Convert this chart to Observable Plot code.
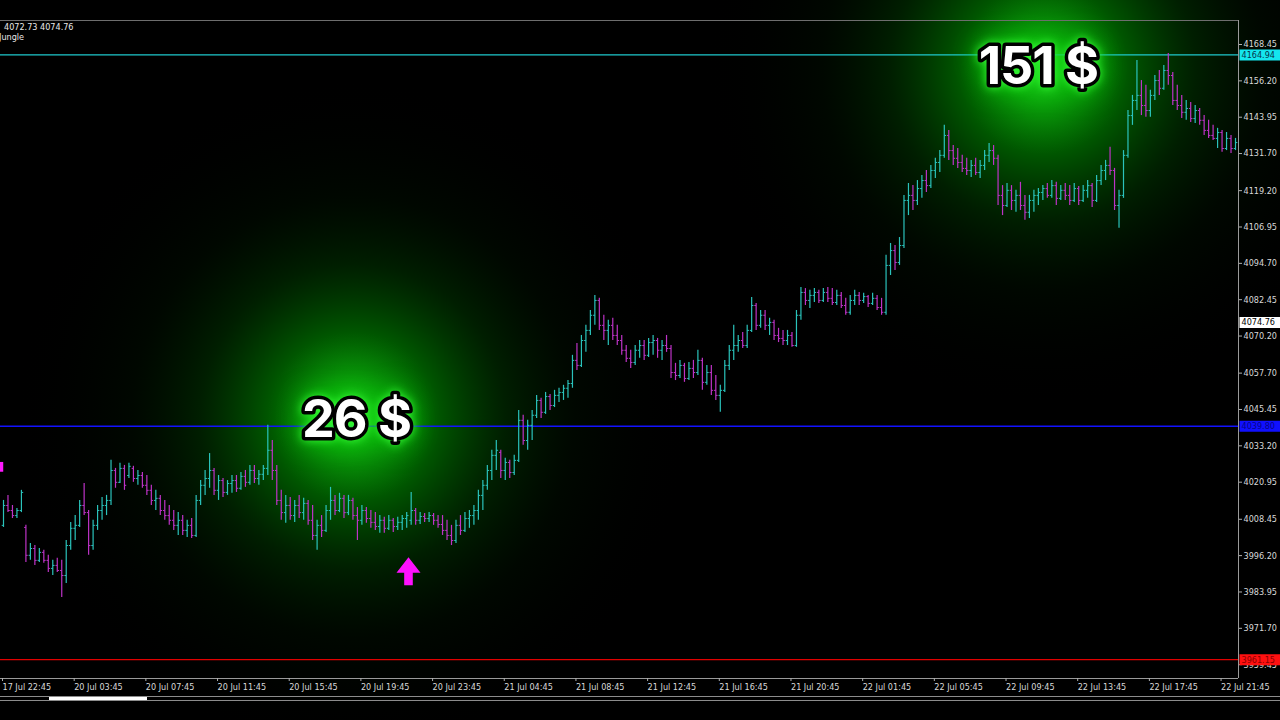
<!DOCTYPE html>
<html><head><meta charset="utf-8">
<script src="https://cdn.jsdelivr.net/npm/d3@7"></script>
<script src="https://cdn.jsdelivr.net/npm/@observablehq/plot@0.6"></script>
<style>
html,body{margin:0;padding:0;background:#000;}
#wrap{position:relative;width:1280px;height:720px;overflow:hidden;background:#000;}
#chart{position:absolute;left:0;top:0;}
.info{position:absolute;color:#e8e8e8;font:9px "DejaVu Sans Condensed","DejaVu Sans",sans-serif;line-height:10px;white-space:nowrap;}
.bl{position:absolute;left:0;width:1280px;height:1px;background:#8c8c8c;}
</style></head>
<body><div id="wrap"><div id="chart"></div>
<div class="info" style="top:22px;left:4px">4072.73 4074.76</div>
<div class="info" style="top:32px;left:-1px">Jungle</div>
<div class="bl" style="top:696px"></div>
<div class="bl" style="top:700px"></div>
<div style="position:absolute;left:49px;top:697px;width:98px;height:3px;background:#fff"></div>
</div>
<script>
// ---- OHLC data (15-minute bars, 17 Jul 22:45 .. 22 Jul 22:30) ----
const opens = [
4006.4,4013.1,4011.4,4009.7,4011.4,4005.7,3996.3,3998.6,3994.6,3997.3,
3994.6,3991.9,3992.9,3991.2,3989.5,3999.6,4005.4,4006.4,4013.1,4010.7,
3999.6,4006.4,4011.4,4013.1,4014.8,4024.9,4020.9,4025.6,4023.2,4025.6,
4022.2,4023.2,4019.9,4018.2,4014.8,4015.5,4011.4,4009.7,4008.1,4006.4,
4008.1,4004.7,4006.4,4003.0,4014.8,4019.9,4022.2,4024.9,4018.2,4021.5,
4017.5,4020.5,4021.5,4018.9,4022.9,4020.9,4024.9,4022.2,4023.6,4025.6,
4031.7,4024.9,4014.8,4010.7,4013.1,4009.7,4013.1,4010.7,4013.8,4008.1,
4003.0,4006.4,4004.7,4011.4,4014.8,4011.4,4015.5,4010.7,4014.8,4009.7,
4008.1,4011.4,4008.7,4007.4,4006.0,4008.1,4005.4,4008.1,4006.0,4007.4,
4008.7,4008.1,4011.4,4008.1,4009.4,4008.7,4009.7,4008.1,4006.7,4004.7,
4003.0,4001.3,4006.4,4004.7,4008.7,4009.7,4011.4,4016.5,4019.9,4024.9,
4030.0,4031.0,4024.9,4027.6,4024.2,4028.3,4041.8,4035.0,4040.1,4043.5,
4048.5,4044.5,4049.8,4046.8,4050.2,4051.2,4052.6,4054.2,4062.0,4060.3,
4068.7,4072.1,4077.2,4082.2,4073.8,4072.1,4073.8,4070.4,4068.7,4065.4,
4062.7,4061.3,4065.4,4067.0,4063.7,4068.0,4068.7,4065.4,4067.0,4066.0,
4057.9,4056.9,4060.3,4055.9,4059.3,4057.9,4062.0,4054.6,4057.9,4051.9,
4050.2,4051.9,4060.3,4065.4,4067.0,4068.7,4067.0,4072.1,4080.5,4073.8,
4077.2,4073.8,4074.8,4070.4,4069.4,4068.7,4070.4,4067.0,4077.2,4084.9,
4082.2,4083.9,4084.9,4082.2,4084.9,4082.9,4081.5,4083.9,4080.5,4078.2,
4082.2,4083.9,4082.2,4083.5,4081.2,4082.9,4079.8,4078.2,4094.0,4099.0,
4095.0,4100.7,4115.9,4117.6,4115.9,4119.9,4122.6,4120.9,4126.0,4128.7,
4131.1,4137.8,4132.7,4130.1,4128.7,4126.7,4126.0,4127.7,4125.3,4127.7,
4131.1,4132.7,4130.1,4117.6,4114.2,4119.3,4115.9,4117.6,4114.2,4111.9,
4115.9,4117.6,4118.6,4119.9,4117.6,4120.9,4116.6,4119.3,4117.6,4115.9,
4119.9,4115.9,4119.3,4120.9,4115.9,4122.6,4126.0,4127.7,4126.0,4114.2,
4117.6,4131.1,4144.5,4149.6,4151.3,4147.9,4146.2,4151.3,4156.3,4153.7,
4159.7,4158.0,4149.6,4147.9,4145.6,4146.9,4143.5,4146.2,4142.9,4139.5,
4137.8,4136.8,4138.8,4133.4,4136.8,4133.4];
const highs = [
4014.8,4016.5,4013.1,4012.1,4018.2,4006.4,4000.3,3999.6,3998.6,3998.0,
3996.3,3994.6,3995.3,3994.6,4001.3,4007.4,4009.7,4014.8,4020.5,4011.4,
4008.1,4013.1,4015.8,4016.5,4028.3,4025.6,4027.3,4026.6,4027.3,4026.3,
4024.9,4024.2,4023.2,4019.9,4018.2,4016.5,4014.8,4013.1,4011.4,4010.7,
4009.7,4008.1,4008.7,4016.5,4021.5,4024.9,4030.6,4025.6,4023.2,4022.2,
4021.5,4023.2,4023.2,4024.2,4024.9,4026.6,4026.6,4024.9,4026.6,4040.1,
4035.0,4026.6,4018.2,4016.5,4015.8,4014.8,4016.5,4015.5,4014.8,4013.1,
4008.1,4009.7,4013.1,4019.2,4016.5,4017.2,4016.5,4016.5,4015.5,4012.4,
4013.1,4012.4,4011.4,4010.7,4009.7,4009.1,4009.7,4008.7,4009.1,4009.7,
4010.7,4017.5,4012.1,4010.7,4010.4,4010.7,4010.4,4009.7,4009.7,4008.1,
4006.4,4008.1,4009.7,4010.7,4011.4,4013.1,4018.2,4021.5,4026.6,4031.7,
4035.0,4031.7,4029.0,4028.3,4030.0,4045.1,4043.5,4041.8,4045.1,4050.2,
4049.2,4051.2,4050.5,4051.9,4052.6,4053.6,4055.2,4063.7,4067.7,4070.4,
4073.8,4078.8,4083.9,4082.9,4077.2,4075.5,4076.2,4073.8,4070.4,4067.0,
4065.4,4067.0,4068.7,4068.7,4069.4,4070.4,4069.4,4068.7,4070.4,4067.0,
4061.0,4062.0,4061.0,4061.3,4062.0,4065.4,4062.7,4060.3,4060.3,4056.9,
4053.6,4062.0,4067.0,4073.8,4070.4,4071.4,4073.8,4083.2,4081.2,4078.8,
4078.8,4076.2,4075.5,4072.8,4072.1,4072.1,4071.4,4078.8,4086.6,4086.2,
4085.6,4086.2,4085.6,4086.2,4086.6,4086.2,4085.6,4084.9,4082.9,4083.9,
4085.6,4084.9,4084.6,4083.9,4084.6,4083.9,4082.9,4097.4,4101.4,4100.7,
4103.4,4117.6,4121.6,4120.9,4122.6,4124.3,4126.0,4127.7,4130.1,4132.7,
4141.2,4139.5,4134.4,4133.4,4131.1,4130.1,4129.4,4130.1,4129.4,4132.7,
4135.1,4134.4,4131.1,4120.9,4121.6,4120.9,4119.3,4122.0,4117.6,4117.6,
4119.3,4119.9,4120.9,4121.6,4122.6,4122.0,4120.9,4121.6,4120.9,4121.6,
4120.6,4120.9,4122.6,4121.6,4124.3,4127.7,4129.4,4133.8,4126.7,4119.3,
4132.7,4146.2,4151.3,4163.1,4156.3,4154.7,4153.0,4158.0,4159.7,4161.4,
4165.4,4159.0,4154.7,4151.3,4149.6,4148.9,4147.9,4146.9,4144.5,4142.9,
4141.2,4140.2,4139.5,4138.8,4137.8,4136.8];
const lows = [
4005.7,4010.7,4008.7,4008.7,4010.7,3993.9,3994.6,3992.9,3993.9,3993.6,
3990.5,3989.5,3990.5,3982.1,3986.8,3998.0,4001.3,4005.7,4009.7,3996.3,
3998.0,4004.7,4008.1,4009.7,4013.1,4018.9,4020.5,4018.2,4022.2,4020.9,
4019.9,4018.9,4016.5,4013.1,4011.4,4009.7,4008.1,4006.4,4004.7,4003.0,
4003.0,4002.3,4002.0,4002.3,4013.1,4016.5,4018.9,4016.5,4014.8,4015.8,
4016.5,4017.2,4017.5,4018.2,4019.2,4019.9,4020.5,4019.9,4021.5,4023.2,
4021.5,4013.1,4008.1,4007.1,4008.1,4007.4,4008.7,4008.1,4006.4,4001.3,
3998.0,4002.3,4004.0,4008.1,4009.7,4010.7,4008.7,4009.7,4008.1,4001.3,
4006.4,4007.1,4005.4,4004.7,4003.7,4003.7,4004.7,4004.0,4004.7,4004.7,
4005.4,4006.4,4006.4,4006.7,4007.4,4007.4,4006.4,4005.4,4003.0,4001.3,
3999.6,4000.3,4003.0,4004.0,4005.4,4006.4,4008.1,4011.4,4018.2,4021.5,
4024.9,4022.2,4021.5,4022.2,4023.2,4027.6,4033.4,4031.7,4035.0,4042.4,
4042.4,4043.8,4045.1,4046.1,4047.8,4048.5,4049.2,4052.6,4058.6,4059.6,
4064.7,4070.4,4073.8,4072.1,4068.7,4067.0,4068.7,4067.0,4063.7,4061.3,
4059.3,4060.3,4062.7,4062.0,4063.0,4063.7,4062.7,4062.0,4064.7,4055.9,
4055.2,4055.9,4054.6,4055.2,4055.9,4056.9,4051.9,4053.6,4050.2,4048.5,
4044.5,4051.2,4058.6,4062.0,4064.7,4066.0,4066.0,4071.4,4072.1,4072.8,
4072.1,4070.4,4068.7,4068.0,4067.0,4067.0,4066.4,4066.4,4075.5,4080.5,
4079.5,4081.5,4081.2,4081.5,4081.5,4080.5,4080.5,4079.5,4077.2,4077.2,
4080.5,4080.5,4081.2,4079.8,4080.5,4078.8,4077.2,4077.2,4090.6,4092.3,
4094.0,4099.7,4110.8,4112.5,4114.2,4116.6,4118.6,4119.9,4123.3,4125.3,
4130.1,4129.4,4127.7,4126.7,4125.3,4124.3,4123.6,4124.3,4123.3,4126.0,
4128.7,4127.7,4114.2,4110.8,4113.5,4112.5,4111.9,4112.5,4109.2,4109.8,
4111.9,4114.2,4115.9,4116.6,4116.6,4114.2,4115.9,4115.9,4114.2,4115.2,
4114.2,4115.2,4116.6,4113.5,4115.2,4120.9,4122.6,4124.3,4112.5,4106.5,
4116.6,4130.1,4141.2,4146.2,4144.5,4143.9,4143.9,4149.6,4151.3,4153.0,
4154.7,4147.9,4146.2,4143.5,4142.9,4142.2,4141.8,4141.2,4137.8,4136.8,
4136.1,4133.4,4132.1,4132.7,4131.7,4132.7];
const closes = [
4013.1,4011.4,4009.7,4011.4,4017.5,3996.3,3998.6,3994.6,3997.3,3994.6,
3991.9,3992.9,3991.2,3989.5,3999.6,4005.4,4006.4,4013.1,4010.7,3999.6,
4006.4,4011.4,4013.1,4014.8,4024.9,4020.9,4025.6,4019.9,4026.3,4022.2,
4023.2,4019.9,4018.2,4014.8,4015.5,4011.4,4009.7,4008.1,4006.4,4008.1,
4004.7,4006.4,4003.0,4014.8,4019.9,4022.2,4024.9,4018.2,4021.5,4017.5,
4020.5,4021.5,4018.9,4022.9,4020.9,4024.9,4022.2,4023.6,4025.6,4031.7,
4024.9,4014.8,4010.7,4013.1,4009.7,4013.1,4010.7,4013.8,4008.1,4003.0,
4006.4,4004.7,4011.4,4014.8,4011.4,4015.5,4010.7,4014.8,4009.7,4008.1,
4011.4,4008.7,4007.4,4006.0,4008.1,4005.4,4008.1,4006.0,4007.4,4008.7,
4009.7,4011.4,4008.1,4009.4,4008.7,4009.7,4008.1,4006.7,4004.7,4003.0,
4001.3,4006.4,4004.7,4008.7,4009.7,4011.4,4016.5,4019.9,4024.9,4030.0,
4031.7,4024.9,4027.6,4024.2,4028.3,4041.8,4035.0,4040.1,4043.5,4048.5,
4044.5,4049.8,4046.8,4050.2,4051.2,4052.6,4054.2,4062.0,4060.3,4068.7,
4072.1,4077.2,4082.2,4073.8,4072.1,4073.8,4070.4,4068.7,4065.4,4062.7,
4061.3,4065.4,4067.0,4063.7,4068.0,4068.7,4065.4,4067.0,4066.0,4057.9,
4056.9,4060.3,4055.9,4059.3,4057.9,4062.0,4054.6,4057.9,4051.9,4050.2,
4051.9,4060.3,4065.4,4067.0,4068.7,4067.0,4072.1,4080.5,4073.8,4077.2,
4073.8,4074.8,4070.4,4069.4,4068.7,4070.4,4067.0,4077.2,4084.9,4082.2,
4083.9,4084.9,4082.2,4084.9,4082.9,4081.5,4083.9,4080.5,4078.2,4082.2,
4083.9,4082.2,4083.5,4081.2,4082.9,4079.8,4078.2,4094.0,4099.0,4095.0,
4100.7,4115.9,4117.6,4115.9,4119.9,4122.6,4120.9,4126.0,4128.7,4131.1,
4137.8,4132.7,4130.1,4128.7,4126.7,4126.0,4127.7,4125.3,4127.7,4131.1,
4132.7,4130.1,4117.6,4114.2,4119.3,4115.9,4117.6,4114.2,4111.9,4115.9,
4117.6,4118.6,4119.9,4117.6,4120.9,4116.6,4119.3,4117.6,4115.9,4119.9,
4115.9,4119.3,4120.9,4115.9,4122.6,4126.0,4127.7,4126.0,4114.2,4117.6,
4131.1,4144.5,4149.6,4151.3,4147.9,4146.2,4151.3,4156.3,4153.7,4159.7,
4158.0,4149.6,4147.9,4145.6,4146.9,4143.5,4146.2,4142.9,4139.5,4137.8,
4136.8,4138.8,4133.4,4136.8,4133.4,4135.4];

// ---- axes ----
const timeTickBars = [0,16,32,48,64,80,96,112,128,144,160,176,192,208,224,240,256,272];
const timeLabels = ["17 Jul 22:45","20 Jul 03:45","20 Jul 07:45","20 Jul 11:45","20 Jul 15:45","20 Jul 19:45",
  "20 Jul 23:45","21 Jul 04:45","21 Jul 08:45","21 Jul 12:45","21 Jul 16:45","21 Jul 20:45",
  "22 Jul 01:45","22 Jul 05:45","22 Jul 09:45","22 Jul 13:45","22 Jul 17:45","22 Jul 21:45"];
const priceTicks = [4168.45,4156.20,4143.95,4131.70,4119.20,4106.95,4094.70,4082.45,4070.20,
  4057.70,4045.45,4033.20,4020.95,4008.45,3996.20,3983.95,3971.70,3959.45];

// ---- levels & annotations ----
const targetLevel = 4164.94;
const entryLevel = 4039.80;
const stopLevel = 3961.15;
const bidPrice = 4074.76;
const profitTexts = ["26 $", "151 $"];
const profitBars = [78.8, 231.0];
const profitPrices = [4041.9, 4160.9];
const glowBars = [78.0, 232.0];
const glowPrices = [4043.0, 4160.0];
const signalBars = [90.4];
const signalPrices = [3990.9];

const xDomain = [-0.67, 275.67];
const yDomain = [3954.79, 4176.54];

const bars = opens.map((o, i) => ({i, o, h: highs[i], l: lows[i], c: closes[i], up: closes[i] >= o}));
const profits = profitTexts.map((t, k) => ({t, bar: profitBars[k], price: profitPrices[k]}));
const glows = glowBars.map((b, k) => ({bar: b, price: glowPrices[k]}));
const signals = signalBars.map((b, k) => ({bar: b, price: signalPrices[k]}));

const upCol = "#2ac3bb", dnCol = "#bd33c6";
const barColor = d => d.up ? upCol : dnCol;

const tagSymbol = {draw(ctx) { ctx.rect(1, -5.5, 42, 11); }};
const arrowSymbol = {draw(ctx) {
  ctx.moveTo(0, -14); ctx.lineTo(12, 1.5); ctx.lineTo(4.3, 1.5); ctx.lineTo(4.3, 14);
  ctx.lineTo(-4.3, 14); ctx.lineTo(-4.3, 1.5); ctx.lineTo(-12, 1.5); ctx.closePath();
}};
const xRight = () => xDomain[1];
const fmt = d => d.toFixed(2);
const axisFont = "'DejaVu Sans Condensed','DejaVu Sans',sans-serif";

function tag(value, bg, fg) {
  return [
    Plot.dot([value], {x: xRight, y: d => d, symbol: tagSymbol, fill: bg, stroke: null}),
    Plot.text([value], {x: xRight, y: d => d, text: fmt, dx: 3, textAnchor: "start", fill: fg, fontSize: 9})
  ];
}

const svg = Plot.plot({
  width: 1280, height: 720,
  marginLeft: 0, marginRight: 42, marginTop: 20, marginBottom: 42,
  style: {background: "#000", color: "#d4d4d4", fontFamily: axisFont, fontSize: "9px", overflow: "hidden"},
  x: {type: "linear", domain: xDomain, axis: null},
  y: {type: "linear", domain: yDomain, axis: null},
  marks: [
    Plot.dot(glows, {x: "bar", y: "price", r: 340, fill: "url(#glowGrad)", stroke: null}),
    Plot.ruleY([yDomain[1]], {stroke: "#6e6e6e", strokeWidth: 1}),
    Plot.ruleY([yDomain[0]], {stroke: "#9a9a9a", strokeWidth: 1}),
    Plot.ruleX([xDomain[1]], {stroke: "#9a9a9a", strokeWidth: 1}),
    Plot.ruleY([targetLevel], {stroke: "#1ec8cc", strokeWidth: 1.4}),
    Plot.ruleY([entryLevel], {stroke: "#1212ff", strokeWidth: 1.6}),
    Plot.ruleY([stopLevel], {stroke: "#e00000", strokeWidth: 1.4}),
    Plot.rect([{x1: -0.75, x2: 0.05, y1: 4024.3, y2: 4027.6}], {x1: "x1", x2: "x2", y1: "y1", y2: "y2", fill: "#ff19ff"}),
    Plot.ruleX(bars, {x: "i", y1: "l", y2: "h", stroke: barColor, strokeWidth: 1.2}),
    Plot.link(bars, {x1: d => d.i - 0.4, x2: "i", y1: "o", y2: "o", stroke: barColor, strokeWidth: 1}),
    Plot.link(bars, {x1: "i", x2: d => d.i + 0.4, y1: "c", y2: "c", stroke: barColor, strokeWidth: 1}),
    Plot.dot(signals, {x: "bar", y: "price", symbol: arrowSymbol, fill: "#ff10ff", stroke: null}),
    Plot.axisY(priceTicks, {anchor: "right", tickSize: 3, tickPadding: 2, tickFormat: fmt, label: null,
      stroke: "#b0b0b0", fill: "#d8d8d8", fontSize: 9, textAnchor: "start"}),
    Plot.axisX(timeTickBars, {anchor: "bottom", tickSize: 3, tickPadding: 2, label: null,
      tickFormat: d => timeLabels[timeTickBars.indexOf(d)], textAnchor: "start", dx: -1,
      stroke: "#b0b0b0", fill: "#d8d8d8", fontSize: 9}),
    ...tag(targetLevel, "#14e6ee", "#08324a"),
    ...tag(bidPrice, "#ffffff", "#000000"),
    ...tag(entryLevel, "#1010ff", "#04048a"),
    ...tag(stopLevel, "#ff1010", "#8a0000"),
    Plot.text(profits, {x: "bar", y: "price", text: "t", fill: "#ffffff", stroke: "#000000", strokeWidth: 7,
      paintOrder: "stroke", strokeLinejoin: "round", fontSize: 52, fontWeight: 700,
      fontFamily: "Inter, 'Open Sans', sans-serif", lineAnchor: "middle", textAnchor: "middle"})
  ]
});

const defs = document.createElementNS("http://www.w3.org/2000/svg", "defs");
defs.innerHTML = `<radialGradient id="glowGrad" cx="50%" cy="50%" r="50%">
  <stop offset="0%" stop-color="rgb(40,215,40)" stop-opacity="1"/>
  <stop offset="10%" stop-color="rgb(12,180,12)" stop-opacity="0.9"/>
  <stop offset="25%" stop-color="rgb(0,130,0)" stop-opacity="0.66"/>
  <stop offset="45%" stop-color="rgb(0,80,0)" stop-opacity="0.38"/>
  <stop offset="65%" stop-color="rgb(0,40,0)" stop-opacity="0.18"/>
  <stop offset="85%" stop-color="rgb(0,20,0)" stop-opacity="0.06"/>
  <stop offset="100%" stop-color="rgb(0,0,0)" stop-opacity="0"/>
</radialGradient>`;
svg.insertBefore(defs, svg.firstChild);
svg.querySelectorAll("text").forEach(t => {
  if (profitTexts.includes(t.textContent)) {
    t.style.filter = "drop-shadow(0 0 5px rgba(60,255,60,0.95)) drop-shadow(0 0 12px rgba(0,200,0,0.8))";
    t.style.letterSpacing = "-1px";
  }
});
document.getElementById("chart").appendChild(svg);
</script>
</body></html>
